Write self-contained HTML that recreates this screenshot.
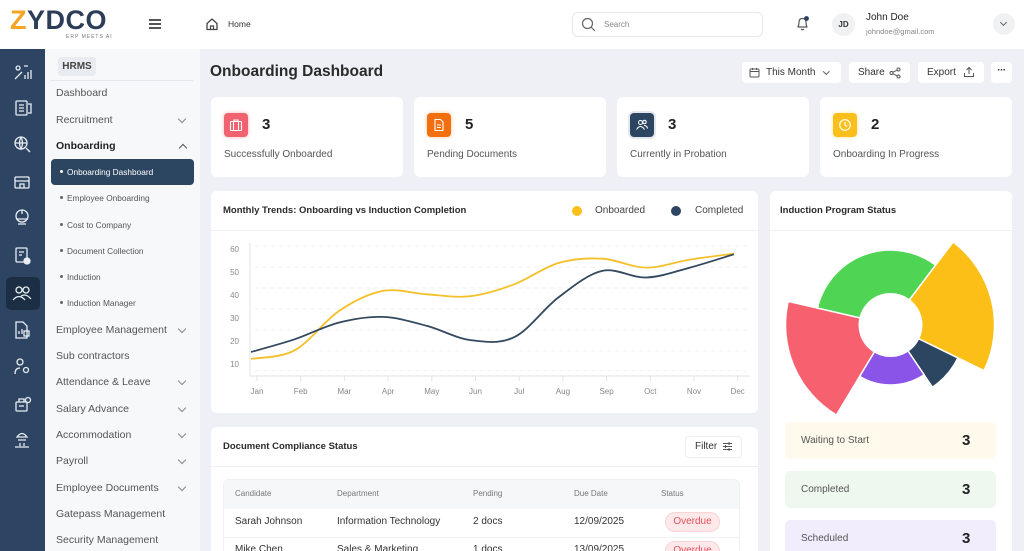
<!DOCTYPE html>
<html><head><meta charset="utf-8">
<style>
*{box-sizing:border-box;margin:0;padding:0}
html,body{width:1024px;height:551px;overflow:hidden}
body{font-family:"Liberation Sans",sans-serif;background:#eef0f5;color:#333}
#root{position:relative;width:1024px;height:551px;overflow:hidden;background:#eef0f5}
.a{position:absolute}
.t{position:absolute;white-space:nowrap}
.card{position:absolute;background:#fff;border-radius:6px}
.nav{position:absolute;left:56px;height:16px;line-height:16px;font-size:10.5px;color:#555;white-space:nowrap}
.sub{position:absolute;left:60px;height:14px;line-height:14px;font-size:8.3px;color:#555;white-space:nowrap}
.sub i{display:inline-block;width:3px;height:3px;border-radius:50%;background:#666;vertical-align:middle;margin-right:4px;position:relative;top:-1px}
.chev{position:absolute;left:179px;width:6px;height:6px;border-right:1.2px solid #888;border-bottom:1.2px solid #888;transform:rotate(45deg)}
.btn{position:absolute;background:#fff;border-radius:4px;height:21px;top:62px;font-size:10px;color:#333;line-height:21px;white-space:nowrap}
.ib{position:absolute;width:24px;height:24px;top:113px;border-radius:4px}
.num{position:absolute;top:116px;font-size:15px;font-weight:bold;color:#222;line-height:18px}
.lbl{position:absolute;top:149px;font-size:10px;color:#555;line-height:12px;white-space:nowrap}
.st{position:absolute;left:785px;width:211px;height:37px;border-radius:5px}
.st span{position:absolute;left:16px;top:0;line-height:37px;font-size:10px;color:#555}
.st b{position:absolute;left:177px;top:0;line-height:37px;font-size:15px;color:#222}
.th{position:absolute;top:488px;font-size:8px;color:#777;line-height:12px}
.td{position:absolute;font-size:10px;color:#333;line-height:14px;white-space:nowrap}
.od{position:absolute;left:665px;width:55px;height:20px;border-radius:10px;background:#fde9ea;border:1px solid #f8d3d6;color:#e2505b;font-size:10px;line-height:18px;text-align:center}
</style></head><body>
<div id="root">

<!-- header -->
<div class="a" style="left:0;top:0;width:1024px;height:49px;background:#fff"></div>
<div class="t" style="left:10px;top:6px;font-size:27px;font-weight:bold;line-height:28px;letter-spacing:0.5px;color:#2c3e57"><span style="color:#f5a524">Z</span>YDCO</div>
<div class="t" style="left:66px;top:34px;font-size:5px;color:#777;letter-spacing:1px">ERP MEETS AI</div>
<div class="a" style="left:149px;top:19px;width:12px;height:1.6px;background:#555;box-shadow:0 4px 0 #555,0 8px 0 #555"></div>
<svg class="a" style="left:205px;top:17px" width="14" height="14" viewBox="0 0 14 14"><path d="M2 6.5 L7 2 L12 6.5 V12.5 H2 Z" fill="none" stroke="#444" stroke-width="1.3" stroke-linejoin="round"/><path d="M5.5 12.5 V9 H8.5 V12.5" fill="none" stroke="#444" stroke-width="1.2"/></svg>
<div class="t" style="left:228px;top:19px;font-size:8.5px;color:#333;line-height:10px">Home</div>
<div class="a" style="left:572px;top:12px;width:191px;height:25px;border:1px solid #e6e8ec;border-radius:6px"></div>
<svg class="a" style="left:581px;top:17px" width="15" height="15" viewBox="0 0 15 15"><circle cx="6.5" cy="6.5" r="5" fill="none" stroke="#666" stroke-width="1.2"/><path d="M10 10 L14 14" stroke="#666" stroke-width="1.2"/></svg>
<div class="t" style="left:604px;top:20px;font-size:8px;color:#888;line-height:10px">Search</div>
<svg class="a" style="left:795px;top:15px" width="16" height="17" viewBox="0 0 16 17"><path d="M3 12 Q4 10 4 7 Q4 3.5 7.5 3.5 Q11 3.5 11 7 Q11 10 12 12 Z" fill="none" stroke="#555" stroke-width="1.2" stroke-linejoin="round"/><path d="M6 14 Q7.5 15.5 9 14" fill="none" stroke="#555" stroke-width="1.2"/><circle cx="11.5" cy="3.5" r="2.4" fill="#2c3e57"/></svg>
<div class="a" style="left:832px;top:13px;width:23px;height:23px;border-radius:50%;background:#f0f1f3;font-size:8px;font-weight:bold;text-align:center;line-height:23px;color:#333">JD</div>
<div class="t" style="left:866px;top:12px;font-size:10px;color:#222;line-height:12px">John Doe</div>
<div class="t" style="left:866px;top:27px;font-size:7.5px;color:#888;line-height:9px">johndoe@gmail.com</div>
<div class="a" style="left:993px;top:13px;width:22px;height:22px;border-radius:50%;background:#f0f1f3"></div>
<div class="a" style="left:1001px;top:20px;width:5px;height:5px;border-right:1px solid #666;border-bottom:1px solid #666;transform:rotate(45deg)"></div>

<!-- dark sidebar -->
<div class="a" style="left:0;top:49px;width:45px;height:502px;background:#2d4562"></div>
<div class="a" style="left:6px;top:277px;width:34px;height:33px;border-radius:5px;background:#1b2e44"></div>
<svg class="a" style="left:0;top:49px" width="45" height="502" viewBox="0 49 45 502" fill="none" stroke="#e8edf3" stroke-width="1.3">
<path d="M15 79 L22 72 M24 66 h4 M18 66 a2 2 0 1 0 0.1 0 M25 79 v-4 M28 79 v-7 M31 79 v-9"/>
<rect x="16" y="101" width="11" height="14" rx="1"/><path d="M19 105 h5 M19 108 h5 M19 111 h5 M28 104 h3 v9 h-3"/>
<circle cx="21" cy="143" r="6"/><path d="M15 143 h12 M21 137 q-3 6 0 12 q3 -6 0 -12"/><path d="M26 148 l4 4"/>
<rect x="15" y="177" width="14" height="11" rx="1"/><path d="M15 181 h14 M20 188 v-4 h4 v4"/>
<circle cx="22" cy="216" r="6"/><path d="M16 219 h12 M18 224 h8 M22 210 v4"/>
<rect x="16" y="248" width="11" height="14" rx="1"/><path d="M19 252 h5 M19 255 h3"/><circle cx="27" cy="261" r="3" fill="#e8edf3"/>
<circle cx="19" cy="290" r="3"/><circle cx="26" cy="290" r="3"/><path d="M13 300 q6 -7 12 0 M21 296 q5 -3 10 3"/>
<path d="M16 322 h7 l4 4 v12 h-11 z"/><path d="M19 334 v-3 M22 334 v-5"/><rect x="24" y="331" width="5" height="5"/>
<circle cx="20" cy="362" r="3"/><path d="M15 374 q0 -6 5 -6"/><circle cx="26" cy="370" r="2.5"/>
<rect x="16" y="402" width="11" height="9" rx="1"/><path d="M19 402 v-3 h5 v3"/><circle cx="28" cy="400" r="2.5"/><path d="M19 406 h5"/>
<path d="M17 437 q5 -7 10 0 z M18 440 h8 M20 443 v3 M24 443 v3 M15 447 h14"/>
</svg>

<!-- secondary sidebar -->
<div class="a" style="left:45px;top:49px;width:155px;height:502px;background:#f7f8fa"></div>
<div class="a" style="left:58px;top:57px;width:38px;height:19px;background:#e8ebef;border-radius:3px;font-size:10px;font-weight:bold;color:#444;text-align:center;line-height:19px">HRMS</div>
<div class="a" style="left:50px;top:80px;width:143px;height:1px;background:#e4e7eb"></div>
<div class="nav" style="top:85px">Dashboard</div>
<div class="nav" style="top:112px">Recruitment</div><div class="chev" style="top:116px"></div>
<div class="nav" style="top:138px;font-weight:bold;color:#222">Onboarding</div>
<div class="a" style="left:180px;top:145px;width:6px;height:6px;border-left:1.2px solid #555;border-top:1.2px solid #555;transform:rotate(45deg)"></div>
<div class="a" style="left:51px;top:159px;width:143px;height:26px;background:#2c4560;border-radius:4px"></div>
<div class="sub" style="top:165px;color:#fff"><i style="background:#fff"></i>Onboarding Dashboard</div>
<div class="sub" style="top:191px"><i></i>Employee Onboarding</div>
<div class="sub" style="top:218px"><i></i>Cost to Company</div>
<div class="sub" style="top:244px"><i></i>Document Collection</div>
<div class="sub" style="top:270px"><i></i>Induction</div>
<div class="sub" style="top:296px"><i></i>Induction Manager</div>
<div class="nav" style="top:322px">Employee Management</div><div class="chev" style="top:326px"></div>
<div class="nav" style="top:348px">Sub contractors</div>
<div class="nav" style="top:374px">Attendance &amp; Leave</div><div class="chev" style="top:378px"></div>
<div class="nav" style="top:401px">Salary Advance</div><div class="chev" style="top:405px"></div>
<div class="nav" style="top:427px">Accommodation</div><div class="chev" style="top:431px"></div>
<div class="nav" style="top:453px">Payroll</div><div class="chev" style="top:457px"></div>
<div class="nav" style="top:480px">Employee Documents</div><div class="chev" style="top:484px"></div>
<div class="nav" style="top:506px">Gatepass Management</div>
<div class="nav" style="top:532px">Security Management</div>

<!-- title and buttons -->
<div class="t" style="left:210px;top:62px;font-size:15.5px;font-weight:bold;color:#2a2a2a;line-height:20px">Onboarding Dashboard</div>
<div class="btn" style="left:742px;width:99px;padding-left:24px">This Month</div>
<svg class="a" style="left:749px;top:67px" width="11" height="11" viewBox="0 0 11 11"><rect x="1" y="2" width="9" height="8" rx="1" fill="none" stroke="#555"/><path d="M1 4.5 h9 M3.5 1 v2 M7.5 1 v2" stroke="#555"/></svg>
<div class="a" style="left:824px;top:69px;width:4.5px;height:4.5px;border-right:1px solid #666;border-bottom:1px solid #666;transform:rotate(45deg)"></div>
<div class="btn" style="left:849px;width:61px;padding-left:9px">Share</div>
<svg class="a" style="left:889px;top:67px" width="12" height="12" viewBox="0 0 12 12"><circle cx="9.5" cy="2.5" r="1.5" fill="none" stroke="#555"/><circle cx="2.5" cy="6" r="1.5" fill="none" stroke="#555"/><circle cx="9.5" cy="9.5" r="1.5" fill="none" stroke="#555"/><path d="M4 5.2 L8 3.2 M4 6.8 L8 8.8" stroke="#555"/></svg>
<div class="btn" style="left:918px;width:66px;padding-left:9px">Export</div>
<svg class="a" style="left:963px;top:66px" width="12" height="12" viewBox="0 0 12 12"><path d="M6 8 V1.5 M3.5 4 L6 1.5 L8.5 4 M1.5 7 V10.5 H10.5 V7" fill="none" stroke="#555"/></svg>
<div class="btn" style="left:991px;width:21px;text-align:center;font-weight:bold;line-height:17px;letter-spacing:-0.5px">···</div>

<!-- stat cards -->
<div class="card" style="left:211px;top:97px;width:192px;height:80px"></div>
<div class="card" style="left:414px;top:97px;width:192px;height:80px"></div>
<div class="card" style="left:617px;top:97px;width:192px;height:80px"></div>
<div class="card" style="left:820px;top:97px;width:192px;height:80px"></div>
<div class="ib" style="left:224px;background:#f0626f;box-shadow:0 0 4px #f7b5bb"></div>
<svg class="a" style="left:229px;top:118px" width="14" height="14" viewBox="0 0 14 14" fill="none" stroke="#fff" stroke-width="1.1"><rect x="1.5" y="3.5" width="11" height="9" rx="1"/><path d="M5 3.5 V2 H9 V3.5 M4.5 3.5 V12.5 M9.5 3.5 V12.5"/></svg>
<div class="ib" style="left:427px;background:#f26f10;box-shadow:0 0 4px #f9c49d"></div>
<svg class="a" style="left:433px;top:118px" width="12" height="14" viewBox="0 0 12 14" fill="none" stroke="#fff" stroke-width="1.1"><path d="M2 1.5 H7.5 L10 4 V12.5 H2 Z M4 7 H8 M4 9.5 H8"/></svg>
<div class="num" style="left:262px">3</div><div class="lbl" style="left:224px">Successfully Onboarded</div>
<div class="num" style="left:465px">5</div><div class="lbl" style="left:427px">Pending Documents</div>
<div class="ib" style="left:630px;background:#2c4560;box-shadow:0 0 0 2px #e3e7ee"></div>
<svg class="a" style="left:635px;top:118px" width="14" height="14" viewBox="0 0 14 14" fill="none" stroke="#fff" stroke-width="1.1"><circle cx="5.5" cy="4.5" r="2"/><circle cx="9.5" cy="4" r="1.7"/><path d="M1.5 11.5 Q5.5 5.5 9.5 11.5 M9 7.5 Q12 7.5 12.5 10.5"/></svg>
<div class="num" style="left:668px">3</div><div class="lbl" style="left:630px">Currently in Probation</div>
<div class="ib" style="left:833px;background:#fbbf1c;box-shadow:0 0 4px #fde39a"></div>
<svg class="a" style="left:838px;top:118px" width="14" height="14" viewBox="0 0 14 14" fill="none" stroke="#fff" stroke-width="1.2"><circle cx="7" cy="7" r="5.3"/><path d="M7 4 V7 L9 8.5"/></svg>
<div class="num" style="left:871px">2</div><div class="lbl" style="left:833px">Onboarding In Progress</div>

<!-- chart cards -->
<div class="card" style="left:211px;top:191px;width:547px;height:222px"></div>
<div class="a" style="left:211px;top:230px;width:547px;height:1px;background:#eef0f3"></div>
<div class="t" style="left:223px;top:205px;font-size:9.5px;font-weight:bold;color:#2a2a2a;line-height:12px">Monthly Trends: Onboarding vs Induction Completion</div>
<div class="a" style="left:572px;top:206px;width:10px;height:10px;border-radius:50%;background:#f9c01a"></div>
<div class="t" style="left:595px;top:205px;font-size:10px;color:#444;line-height:12px">Onboarded</div>
<div class="a" style="left:671px;top:206px;width:10px;height:10px;border-radius:50%;background:#2c4560"></div>
<div class="t" style="left:695px;top:205px;font-size:10px;color:#444;line-height:12px">Completed</div>

<div class="card" style="left:770px;top:191px;width:242px;height:380px"></div>
<div class="a" style="left:770px;top:230px;width:242px;height:1px;background:#eef0f3"></div>
<div class="t" style="left:780px;top:205px;font-size:9.5px;font-weight:bold;color:#2a2a2a;line-height:12px">Induction Program Status</div>

<svg class="a" style="left:0;top:0" width="1024" height="551" viewBox="0 0 1024 551">
<g stroke="#ececec" stroke-width="0.8" stroke-dasharray="4,4">
<path d="M255 246 H748 M255 267 H748 M255 288 H748 M255 309 H748 M255 330 H748 M255 351 H748 M255 371 H748"/>
</g>
<path d="M250 243 V376 H750" fill="none" stroke="#e3e3e3" stroke-width="1"/>
<g stroke="#e3e3e3"><path d="M257 376v5M300.7 376v5M344.4 376v5M388.1 376v5M431.8 376v5M475.5 376v5M519.2 376v5M562.9 376v5M606.6 376v5M650.3 376v5M694 376v5M737.7 376v5"/></g>
<g font-family="Liberation Sans, sans-serif" font-size="8" fill="#888" text-anchor="end">
<text x="239" y="252">60</text><text x="239" y="275">50</text><text x="239" y="298">40</text><text x="239" y="321">30</text><text x="239" y="344">20</text><text x="239" y="367">10</text>
</g>
<g font-family="Liberation Sans, sans-serif" font-size="8" fill="#888" text-anchor="middle">
<text x="257" y="394">Jan</text><text x="300.7" y="394">Feb</text><text x="344.4" y="394">Mar</text><text x="388.1" y="394">Apr</text><text x="431.8" y="394">May</text><text x="475.5" y="394">Jun</text><text x="519.2" y="394">Jul</text><text x="562.9" y="394">Aug</text><text x="606.6" y="394">Sep</text><text x="650.3" y="394">Oct</text><text x="694" y="394">Nov</text><text x="737.7" y="394">Dec</text>
</g>
<path fill="none" stroke="#f4c02a" stroke-width="1.8" d="M251,358.9 C258.3,357.5 280.3,358.2 294.9,350.2 C309.5,342.2 324.2,321.0 338.8,311.1 C353.4,301.2 368.1,293.7 382.7,290.9 C397.3,288.1 412.0,293.4 426.6,294.3 C441.2,295.2 455.9,297.9 470.5,296.2 C485.1,294.5 499.8,289.7 514.4,284.2 C529.0,278.7 543.7,267.3 558.3,263.0 C572.9,258.8 587.6,257.9 602.2,258.7 C616.8,259.5 631.5,267.5 646.1,267.6 C660.7,267.8 675.4,261.9 690,259.6 C704.6,257.3 726.6,254.6 733.9,253.6"/>
<path fill="none" stroke="#34485f" stroke-width="1.8" d="M251,352 C258.3,349.9 280.3,344.1 294.9,339.2 C309.5,334.3 324.2,326.3 338.8,322.6 C353.4,318.9 368.1,316.4 382.7,316.9 C397.3,317.4 412.0,321.9 426.6,325.8 C441.2,329.7 455.9,338.2 470.5,340.1 C485.1,342.0 499.8,344.2 514.4,337.1 C529.0,330.0 543.7,308.5 558.3,297.5 C572.9,286.5 587.6,274.2 602.2,270.9 C616.8,267.6 631.5,278.1 646.1,277.5 C660.7,276.9 675.4,271.5 690,267.6 C704.6,263.7 726.6,256.5 733.9,254.3"/>

<!-- polar area -->
<g stroke="#fff" stroke-width="1.5" stroke-linejoin="round">
<path fill="#4fd454" d="M890.5,325 L817.4,308.1 A75,75 0 0 1 935.6,265.1 Z"/>
<path fill="#fcbf17" d="M890.5,325 L953.1,241.9 A104,104 0 0 1 984.0,370.6 Z"/>
<path fill="#2c4560" d="M890.5,325 L957.9,357.9 A75,75 0 0 1 932.4,387.2 Z"/>
<path fill="#8a54e8" d="M890.5,325 L924.1,374.7 A60,60 0 0 1 859.6,376.4 Z"/>
<path fill="#f7606f" d="M890.5,325 L836.4,415.0 A105,105 0 0 1 788.2,301.4 Z"/>
</g>
<circle cx="890.5" cy="325" r="32" fill="#fff"/>
</svg>

<!-- status boxes -->
<div class="st" style="top:422px;background:#fffaec"><span>Waiting to Start</span><b>3</b></div>
<div class="st" style="top:471px;background:#eef8ef"><span>Completed</span><b>3</b></div>
<div class="st" style="top:520px;background:#f1edfc"><span>Scheduled</span><b>3</b></div>

<!-- document compliance -->
<div class="card" style="left:211px;top:427px;width:547px;height:140px"></div>
<div class="a" style="left:211px;top:466px;width:547px;height:1px;background:#eef0f3"></div>
<div class="t" style="left:223px;top:441px;font-size:9.5px;font-weight:bold;color:#2a2a2a;line-height:12px">Document Compliance Status</div>
<div class="a" style="left:685px;top:436px;width:57px;height:22px;border:1px solid #eceef1;border-radius:4px;font-size:10px;line-height:20px;padding-left:9px;color:#333">Filter</div>
<svg class="a" style="left:722px;top:441px" width="11" height="11" viewBox="0 0 11 11" stroke="#555" stroke-width="1"><path d="M1 2.5h9M1 5.5h9M1 8.5h9"/><path d="M7 1v3M3.5 4v3M7 7v3"/></svg>
<div class="a" style="left:223px;top:479px;width:517px;height:90px;border:1px solid #eef0f3;border-radius:6px;overflow:hidden">
<div class="a" style="left:0;top:0;width:517px;height:29px;background:#f6f7f9"></div>
<div class="a" style="left:0;top:57px;width:517px;height:1px;background:#eef0f3"></div>
</div>
<div class="th" style="left:235px">Candidate</div>
<div class="th" style="left:337px">Department</div>
<div class="th" style="left:473px">Pending</div>
<div class="th" style="left:574px">Due Date</div>
<div class="th" style="left:661px">Status</div>
<div class="td" style="left:235px;top:515px">Sarah Johnson</div>
<div class="td" style="left:337px;top:515px">Information Technology</div>
<div class="td" style="left:473px;top:515px">2 docs</div>
<div class="td" style="left:574px;top:515px">12/09/2025</div>
<div class="od" style="top:512px">Overdue</div>
<div class="td" style="left:235px;top:543px">Mike Chen</div>
<div class="td" style="left:337px;top:543px">Sales &amp; Marketing</div>
<div class="td" style="left:473px;top:543px">1 docs</div>
<div class="td" style="left:574px;top:543px">13/09/2025</div>
<div class="od" style="top:541px">Overdue</div>

</div>
</body></html>
